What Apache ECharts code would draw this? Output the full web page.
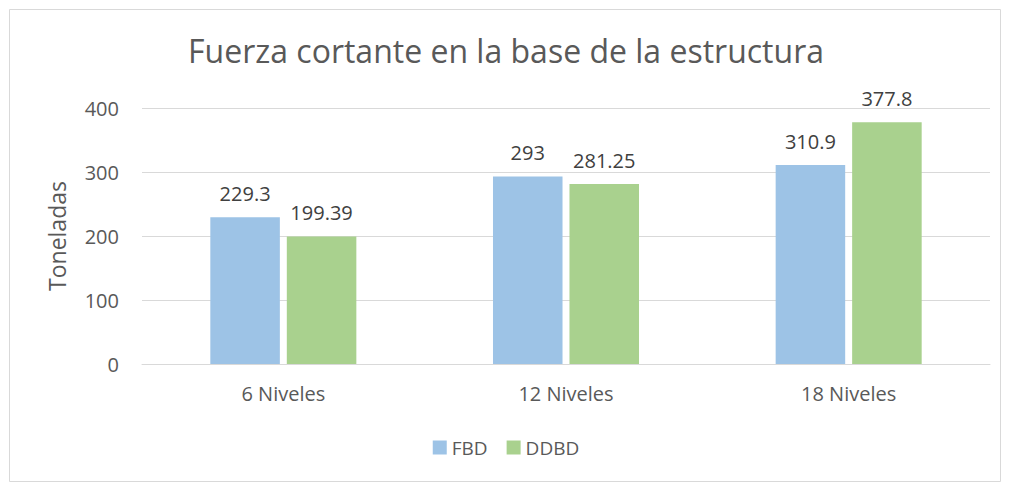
<!DOCTYPE html>
<html>
<head>
<meta charset="utf-8">
<script src="https://cdn.jsdelivr.net/npm/echarts@6/dist/echarts.min.js"></script>
<style>
  html, body { margin: 0; padding: 0; background: #fff; }
  #chart { width: 1012px; height: 485px; }
</style>
</head>
<body>
<div id="chart"></div>
<script>
// data
var categories = ['6 Niveles', '12 Niveles', '18 Niveles'];
var fbd = [229.3, 293, 310.9];
var ddbd = [199.39, 281.25, 377.8];
var yTicks = { min: 0, max: 400, interval: 100 };

var txt = '#595959';
var font = 'Open Sans, Liberation Sans, sans-serif';

var chart = echarts.init(document.getElementById('chart'), null, { renderer: 'svg' });

chart.setOption({
  animation: false,
  textStyle: { fontFamily: font },
  title: {
    text: 'Fuerza cortante en la base de la estructura',
    left: 'center',
    top: 29,
    textStyle: { color: txt, fontSize: 32, fontWeight: 'normal', fontFamily: font }
  },
  graphic: [{
    type: 'rect',
    shape: { x: 9.5, y: 9.5, width: 991, height: 472 },
    style: { fill: 'none', stroke: '#d9d9d9', lineWidth: 1 },
    silent: true
  }],
  legend: {
    top: 433,
    left: 'center',
    itemWidth: 14,
    itemHeight: 14,
    itemGap: 19,
    icon: 'rect',
    textStyle: { color: txt, fontSize: 19, fontFamily: font },
    data: ['FBD', 'DDBD']
  },
  grid: { left: 142, right: 22, top: 108, bottom: 121 },
  xAxis: {
    type: 'category',
    data: categories,
    axisTick: { show: false },
    axisLine: { lineStyle: { color: '#d9d9d9', width: 1 } },
    axisLabel: { color: txt, fontSize: 20, margin: 19 }
  },
  yAxis: {
    type: 'value',
    min: yTicks.min,
    max: yTicks.max,
    interval: yTicks.interval,
    name: 'Toneladas',
    nameLocation: 'middle',
    nameGap: 74,
    nameTextStyle: { color: txt, fontSize: 23 },
    axisLine: { show: false },
    axisTick: { show: false },
    axisLabel: { color: txt, fontSize: 20, margin: 23 },
    splitLine: { lineStyle: { color: '#d9d9d9', width: 1 } }
  },
  series: [
    {
      name: 'FBD',
      type: 'bar',
      data: fbd,
      barWidth: '24.6%',
      barGap: '10%',
      itemStyle: { color: '#9dc3e6' },
      label: { show: true, position: 'top', distance: 14, color: '#404040', fontSize: 20 }
    },
    {
      name: 'DDBD',
      type: 'bar',
      data: ddbd,
      barWidth: '24.6%',
      itemStyle: { color: '#a9d18e' },
      label: { show: true, position: 'top', distance: 14, color: '#404040', fontSize: 20 }
    }
  ]
});
</script>
</body>
</html>
